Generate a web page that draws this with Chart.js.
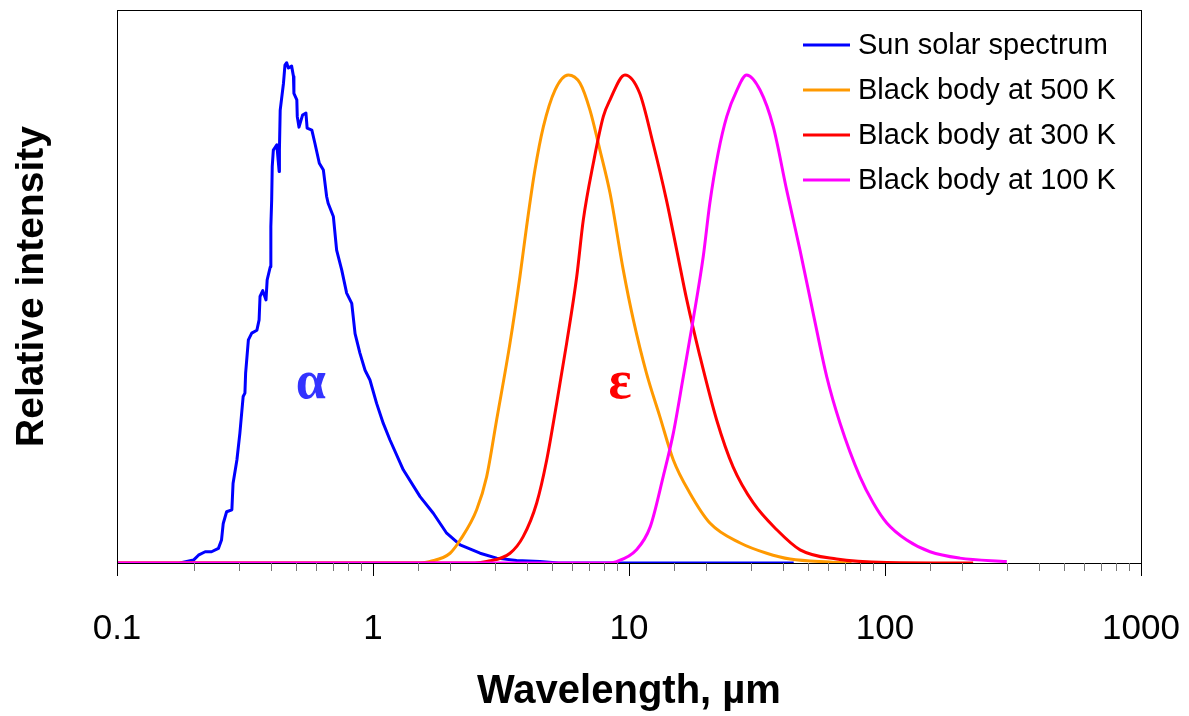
<!DOCTYPE html>
<html>
<head>
<meta charset="utf-8">
<script src="https://cdn.jsdelivr.net/npm/chart.js@4"></script>
<style>
  body { margin: 0; background: #fff; }
</style>
</head>
<body>
<canvas id="chart-spectrum" width="1189" height="716"></canvas>
<script>
// values (wavelength in µm, intensity relative to black body peaks)
var sunWavelength = [0.176, 0.199, 0.208, 0.221, 0.234, 0.249, 0.256, 0.260, 0.268, 0.281, 0.284, 0.294, 0.302, 0.311, 0.316, 0.318, 0.326, 0.336, 0.352, 0.359, 0.362, 0.371, 0.382, 0.386, 0.397, 0.399, 0.402, 0.404, 0.408, 0.421, 0.430, 0.431, 0.434, 0.447, 0.453, 0.460, 0.467, 0.481, 0.489, 0.491, 0.504, 0.506, 0.514, 0.531, 0.547, 0.553, 0.577, 0.593, 0.617, 0.640, 0.659, 0.668, 0.700, 0.721, 0.755, 0.789, 0.826, 0.851, 0.889, 0.931, 0.973, 1.033, 1.097, 1.165, 1.313, 1.527, 1.72, 1.94, 2.19, 2.62, 3.04, 3.64, 4.49, 5.3, 44];
var sunIntensity = [0, 0.006, 0.016, 0.023, 0.023, 0.030, 0.047, 0.081, 0.105, 0.109, 0.163, 0.211, 0.266, 0.341, 0.348, 0.389, 0.457, 0.471, 0.477, 0.498, 0.546, 0.558, 0.539, 0.580, 0.607, 0.689, 0.744, 0.812, 0.846, 0.857, 0.802, 0.846, 0.928, 0.983, 1.020, 1.025, 1.014, 1.018, 0.997, 0.962, 0.949, 0.915, 0.893, 0.918, 0.922, 0.891, 0.887, 0.860, 0.819, 0.805, 0.751, 0.737, 0.710, 0.641, 0.600, 0.553, 0.532, 0.470, 0.430, 0.395, 0.375, 0.327, 0.286, 0.252, 0.191, 0.136, 0.102, 0.061, 0.037, 0.020, 0.010, 0.005, 0.003, 0, 0];

var bb500Wavelength = [0.1, 1.53, 1.67, 2.00, 2.19, 2.54, 2.78, 3.04, 3.43, 3.75, 3.98, 4.29, 4.63, 5.14, 5.79, 6.44, 7.04, 7.70, 8.43, 9.50, 10.4, 11.7, 13.2, 14.9, 17.3, 20.7, 27.2, 34.5, 42.6, 61.0, 74];
var bb500Intensity = [0, 0, 0.003, 0.020, 0.047, 0.109, 0.177, 0.293, 0.451, 0.587, 0.689, 0.805, 0.894, 0.969, 1.0, 0.983, 0.928, 0.846, 0.758, 0.600, 0.498, 0.389, 0.300, 0.211, 0.143, 0.082, 0.041, 0.020, 0.008, 0.002, 0];

var bb300Wavelength = [0.1, 2.50, 2.78, 3.43, 3.86, 4.36, 4.77, 5.22, 5.71, 6.25, 6.63, 7.26, 7.94, 8.43, 9.64, 11.0, 12.4, 14.0, 15.4, 16.8, 18.9, 22.0, 25.5, 30.6, 37.8, 46.6, 64.7, 101.6, 221];
var bb300Intensity = [0, 0, 0.003, 0.020, 0.054, 0.123, 0.211, 0.328, 0.451, 0.587, 0.703, 0.820, 0.915, 0.949, 1.0, 0.963, 0.861, 0.744, 0.638, 0.540, 0.425, 0.293, 0.197, 0.123, 0.068, 0.027, 0.008, 0.001, 0];

var bb100Wavelength = [0.1, 8.20, 8.95, 10.7, 12.1, 13.6, 14.9, 16.3, 17.8, 19.5, 20.7, 22.3, 24.1, 26.4, 28.8, 32.5, 36.6, 41.3, 46.6, 52.5, 59.2, 66.7, 79.8, 90.0, 101.6, 121.6, 150, 196, 299];
var bb100Intensity = [0, 0, 0.003, 0.027, 0.074, 0.177, 0.266, 0.382, 0.498, 0.628, 0.738, 0.840, 0.915, 0.969, 1.0, 0.969, 0.894, 0.764, 0.640, 0.510, 0.382, 0.287, 0.177, 0.123, 0.082, 0.047, 0.023, 0.010, 0.003];

var seriesLabels = ["Sun solar spectrum", "Black body at 500 K", "Black body at 300 K", "Black body at 100 K"];
var xTickLabels = ["0.1", "1", "10", "100", "1000"];

var symbolText = ["α", "ε"];
var symbolWavelength = [0.571, 9.22];
var symbolIntensity = [0.338, 0.338];

var SANS = '"Liberation Sans", Arial, sans-serif';

function toPoints(xs, ys) {
  return xs.map(function (x, i) { return { x: x, y: ys[i] }; });
}

function isDecade(v) {
  var l = Math.log10(v);
  return Math.abs(l - Math.round(l)) < 1e-6;
}

// frame around the plot, short minor ticks, legend and symbols
var framePlugin = {
  id: "frame",
  afterDraw: function (chart) {
    var ctx = chart.ctx;
    var area = chart.chartArea;
    var xScale = chart.scales.x;
    var yScale = chart.scales.y;
    ctx.save();

    ctx.strokeStyle = "#000";
    ctx.lineWidth = 1;
    ctx.strokeRect(area.left + 0.5, area.top + 0.5, area.right - area.left, area.bottom - area.top);

    ctx.strokeStyle = "#777";
    xScale.ticks.forEach(function (t) {
      if (isDecade(t.value)) return;
      var px = Math.round(xScale.getPixelForValue(t.value)) + 0.5;
      ctx.beginPath();
      ctx.moveTo(px, area.bottom);
      ctx.lineTo(px, area.bottom + 8);
      ctx.stroke();
    });

    ctx.font = "29px " + SANS;
    ctx.textBaseline = "middle";
    ctx.textAlign = "left";
    chart.data.datasets.forEach(function (ds, i) {
      var y = area.top + 35 + i * 45;
      var x0 = area.right - 338;
      ctx.strokeStyle = ds.borderColor;
      ctx.lineWidth = 3;
      ctx.beginPath();
      ctx.moveTo(x0, y);
      ctx.lineTo(x0 + 47, y);
      ctx.stroke();
      ctx.fillStyle = "#000";
      ctx.fillText(ds.label, x0 + 55, y + 1);
    });

    var symbolColors = ["#3333ff", "#ff0000"];
    ctx.font = 'bold 54px "Liberation Serif", "DejaVu Serif", serif';
    ctx.textAlign = "center";
    ctx.textBaseline = "alphabetic";
    symbolText.forEach(function (s, i) {
      ctx.fillStyle = symbolColors[i];
      ctx.fillText(s, xScale.getPixelForValue(symbolWavelength[i]), yScale.getPixelForValue(symbolIntensity[i]));
    });

    ctx.restore();
  }
};

document.addEventListener("DOMContentLoaded", function () {
  var ctx = document.getElementById("chart-spectrum").getContext("2d");

  var chartSpectrum = new Chart(ctx, {
    type: "line",
    data: {
      datasets: [
        {
          label: seriesLabels[0],
          data: toPoints(sunWavelength, sunIntensity),
          borderColor: "#0000ff",
          order: 4,
        },
        {
          label: seriesLabels[1],
          data: toPoints(bb500Wavelength, bb500Intensity),
          borderColor: "#ff9900",
          cubicInterpolationMode: "monotone",
          order: 3,
        },
        {
          label: seriesLabels[2],
          data: toPoints(bb300Wavelength, bb300Intensity),
          borderColor: "#ff0000",
          cubicInterpolationMode: "monotone",
          order: 2,
        },
        {
          label: seriesLabels[3],
          data: toPoints(bb100Wavelength, bb100Intensity),
          borderColor: "#ff00ff",
          cubicInterpolationMode: "monotone",
          order: 1,
        },
      ],
    },
    options: {
      responsive: false,
      animation: false,
      events: [],
      layout: { padding: { left: 0, right: 48, top: 10, bottom: 0 } },
      elements: {
        line: { borderWidth: 3, tension: 0, fill: false, borderJoinStyle: "round" },
        point: { radius: 0 },
      },
      plugins: {
        legend: { display: false },
        tooltip: { enabled: false },
      },
      scales: {
        x: {
          type: "logarithmic",
          min: 0.1,
          max: 1000,
          afterFit: function (s) {
            s.height = 153;
            s.paddingLeft = 0;
            s.paddingRight = 0;
          },
          border: { display: false },
          grid: {
            display: true,
            drawOnChartArea: false,
            drawTicks: true,
            tickLength: 13,
            tickWidth: 1,
            tickColor: function (c) {
              return c.tick && isDecade(c.tick.value) ? "#000" : "rgba(0,0,0,0)";
            },
          },
          ticks: {
            autoSkip: false,
            maxRotation: 0,
            padding: 32,
            color: "#000",
            font: { family: SANS, size: 35 },
            callback: function (value) {
              if (!isDecade(value)) return "";
              return xTickLabels[Math.round(Math.log10(value)) + 1];
            },
          },
          title: {
            display: true,
            text: "Wavelength, µm",
            color: "#000",
            font: { family: SANS, size: 40, weight: "bold" },
            padding: { top: 0, bottom: 0 },
          },
        },
        y: {
          type: "linear",
          min: 0,
          max: 1.133,
          afterFit: function (s) { s.width = 117; },
          border: { display: false },
          grid: { display: false },
          ticks: { display: false },
          title: {
            display: true,
            text: "Relative intensity",
            color: "#000",
            font: { family: SANS, size: 39, weight: "bold" },
            padding: { top: 9, bottom: 0 },
          },
        },
      },
    },
    plugins: [framePlugin],
  });
});
</script>
</body>
</html>
